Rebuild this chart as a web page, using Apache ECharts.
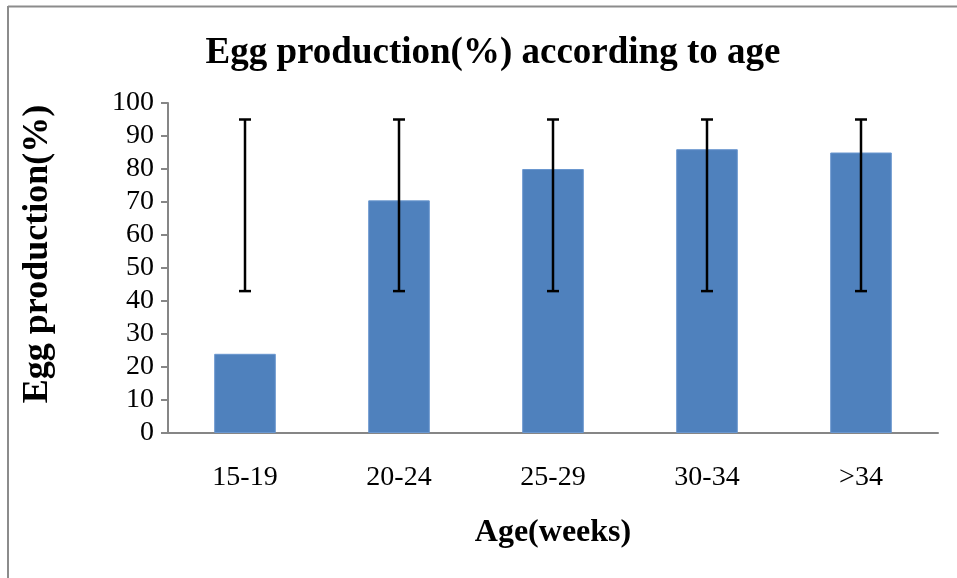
<!DOCTYPE html>
<html>
<head>
<meta charset="utf-8">
<script src="https://cdn.jsdelivr.net/npm/echarts@6/dist/echarts.min.js"></script>
<style>
  html, body { margin: 0; padding: 0; background: #fff; }
  #main { width: 957px; height: 578px; }
</style>
</head>
<body>
<div id="main"></div>
<script>
// chart data
var ageGroups = ['15-19', '20-24', '25-29', '30-34', '>34'];
var eggProduction = [24, 70.5, 80, 86, 85];
var errLow = [43, 43, 43, 43, 43];
var errHigh = [95, 95, 95, 95, 95];

var myChart = echarts.init(document.getElementById('main'));

var font = '"Liberation Serif", "Times New Roman", serif';

var option = {
  backgroundColor: '#fff',
  animation: false,
  title: {
    text: 'Egg production(%) according to age',
    left: 488,
    top: 30,
    textAlign: 'center',
    textStyle: { fontFamily: font, fontSize: 37, fontWeight: 'bold', color: '#000' }
  },
  graphic: [
    // outer frame (top + left visible)
    { type: 'line', shape: { x1: 8, y1: 6.5, x2: 957, y2: 6.5 }, style: { stroke: '#8c8c8c', lineWidth: 2 } },
    { type: 'line', shape: { x1: 8, y1: 6, x2: 8, y2: 578 }, style: { stroke: '#8c8c8c', lineWidth: 2 } }
  ],
  grid: { left: 168, right: 19, top: 103, bottom: 145 },
  xAxis: {
    type: 'category',
    data: ageGroups,
    name: 'Age(weeks)',
    nameLocation: 'middle',
    nameGap: 84,
    nameTextStyle: { fontFamily: font, fontSize: 32, fontWeight: 'bold', color: '#000' },
    axisLine: { lineStyle: { color: '#868686', width: 2 } },
    axisTick: { show: false },
    axisLabel: { fontFamily: font, fontSize: 28, color: '#000', margin: 31 }
  },
  yAxis: {
    type: 'value',
    min: 0,
    max: 100,
    interval: 10,
    name: 'Egg production(%)',
    nameLocation: 'middle',
    nameGap: 112,
    nameTextStyle: { fontFamily: font, fontSize: 36, fontWeight: 'bold', color: '#000', padding: [0, 0, 0, 28] },
    axisLine: { show: true, lineStyle: { color: '#868686', width: 2 } },
    axisTick: { show: true, length: 7, lineStyle: { color: '#868686', width: 2 } },
    axisLabel: { fontFamily: font, fontSize: 28, color: '#000', margin: 14 },
    splitLine: { show: false }
  },
  series: [
    {
      name: 'Egg production',
      type: 'bar',
      data: eggProduction,
      barWidth: '40%',
      itemStyle: { color: '#4F81BD', borderColor: '#6a97cf', borderWidth: 1 }
    },
    {
      name: 'error',
      type: 'custom',
      data: ageGroups.map(function (c, i) { return [i, errLow[i], errHigh[i]]; }),
      z: 10,
      renderItem: function (params, api) {
        var lo = api.coord([api.value(0), api.value(1)]);
        var hi = api.coord([api.value(0), api.value(2)]);
        var half = 6;
        var st = { stroke: '#000', lineWidth: 2.5 };
        return {
          type: 'group',
          children: [
            { type: 'line', shape: { x1: hi[0], y1: hi[1], x2: lo[0], y2: lo[1] }, style: st },
            { type: 'line', shape: { x1: hi[0] - half, y1: hi[1], x2: hi[0] + half, y2: hi[1] }, style: st },
            { type: 'line', shape: { x1: lo[0] - half, y1: lo[1], x2: lo[0] + half, y2: lo[1] }, style: st }
          ]
        };
      }
    }
  ]
};

myChart.setOption(option);
</script>
</body>
</html>
